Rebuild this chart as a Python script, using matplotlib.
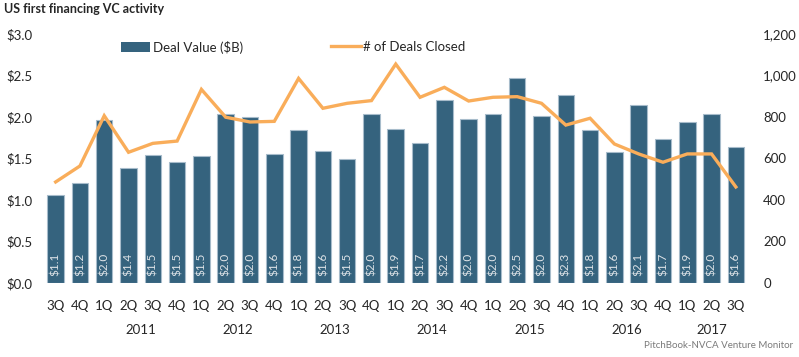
import matplotlib.pyplot as plt
import matplotlib.transforms as mtransforms
from matplotlib.patches import Patch
from matplotlib.lines import Line2D

plt.rcParams['font.family'] = ['Lato', 'DejaVu Sans']

quarters = ['3Q', '4Q', '1Q', '2Q', '3Q', '4Q', '1Q', '2Q', '3Q', '4Q',
            '1Q', '2Q', '3Q', '4Q', '1Q', '2Q', '3Q', '4Q', '1Q', '2Q',
            '3Q', '4Q', '1Q', '2Q', '3Q', '4Q', '1Q', '2Q', '3Q']
deal_value = [1.06, 1.21, 1.96, 1.38, 1.54, 1.46, 1.53, 2.04, 2.00, 1.55,
              1.84, 1.59, 1.50, 2.04, 1.86, 1.69, 2.20, 1.98, 2.04, 2.47,
              2.01, 2.26, 1.84, 1.58, 2.14, 1.73, 1.94, 2.04, 1.64]
deal_count = [487, 564, 806, 630, 673, 684, 933, 799, 776, 779,
              986, 842, 866, 879, 1055, 895, 943, 877, 895, 898,
              866, 761, 794, 670, 622, 582, 622, 622, 463]
years = ['2011', '2012', '2013', '2014', '2015', '2016', '2017']
year_pos = [3.5, 7.5, 11.5, 15.5, 19.5, 23.5, 27]

bar_color = '#35637e'
line_color = '#f9ad5a'
text_color = '#262626'

fig = plt.figure(figsize=(7.99, 3.57), dpi=100)
ax = fig.add_axes([43.5 / 799, 1 - 283 / 357, (748 - 43.5) / 799, (283 - 34) / 357])
x = list(range(len(quarters)))

ax.bar(x, deal_value, width=0.68, color=bar_color, edgecolor='#a7bccb', linewidth=0.8)
for xi, v in zip(x, deal_value):
    ax.text(xi, 0.08, f'${v:.1f}', rotation=90, ha='center', va='bottom',
            color='#dfe4e8', fontsize=8.5)

ax.set_xlim(-0.5, len(quarters) - 0.5)
ax.set_ylim(0, 3.0)
ax.set_yticks([0, 0.5, 1.0, 1.5, 2.0, 2.5, 3.0])
ax.set_yticklabels([f'${t:.1f}' for t in [0, 0.5, 1.0, 1.5, 2.0, 2.5, 3.0]])
ax.set_xticks(x)
ax.set_xticklabels(quarters)
ax.tick_params(axis='both', length=0, labelsize=9.5, colors=text_color)
ax.tick_params(axis='x', pad=12)
ax.tick_params(axis='y', pad=8)

ax2 = ax.twinx()
ax2.plot(x, deal_count, color=line_color, linewidth=2.4, solid_joinstyle='miter')
ax2.set_ylim(0, 1200)
ax2.set_yticks([0, 200, 400, 600, 800, 1000, 1200])
ax2.set_yticklabels([f'{t:,}' for t in [0, 200, 400, 600, 800, 1000, 1200]])
ax2.tick_params(axis='y', length=0, labelsize=9.5, colors=text_color, pad=11)

for a in (ax, ax2):
    for s in a.spines.values():
        s.set_visible(False)

trans = mtransforms.blended_transform_factory(ax.transData, ax.transAxes)
for yr, p in zip(years, year_pos):
    ax.text(p, -0.165, yr, transform=trans, ha='center', va='top',
            fontsize=9.5, color=text_color)

leg1 = fig.legend([Patch(facecolor=bar_color, edgecolor='none')], ['Deal Value ($B)'],
                  loc='center left', bbox_to_anchor=(121 / 799, 1 - 47 / 357),
                  frameon=False, fontsize=9.5, borderpad=0, borderaxespad=0,
                  handlelength=2.2, handleheight=0.7, handletextpad=0.25,
                  labelcolor=text_color)
leg2 = fig.legend([Line2D([0], [0], color=line_color, linewidth=2.4)], ['# of Deals Closed'],
                  loc='center left', bbox_to_anchor=(331 / 799, 1 - 47 / 357),
                  frameon=False, fontsize=9.5, borderpad=0, borderaxespad=0,
                  handlelength=2.3, handletextpad=0.1, labelcolor=text_color)

fig.text(4 / 799, 1 - 9 / 357, 'US first financing VC activity', ha='left', va='center',
         fontsize=9, fontweight='bold', color=text_color)
fig.text(793 / 799, 1 - 346 / 357, 'PitchBook-NVCA Venture Monitor', ha='right',
         va='center', fontsize=7, color='#7a7a7a')

fig.savefig('out.png', dpi=100)
